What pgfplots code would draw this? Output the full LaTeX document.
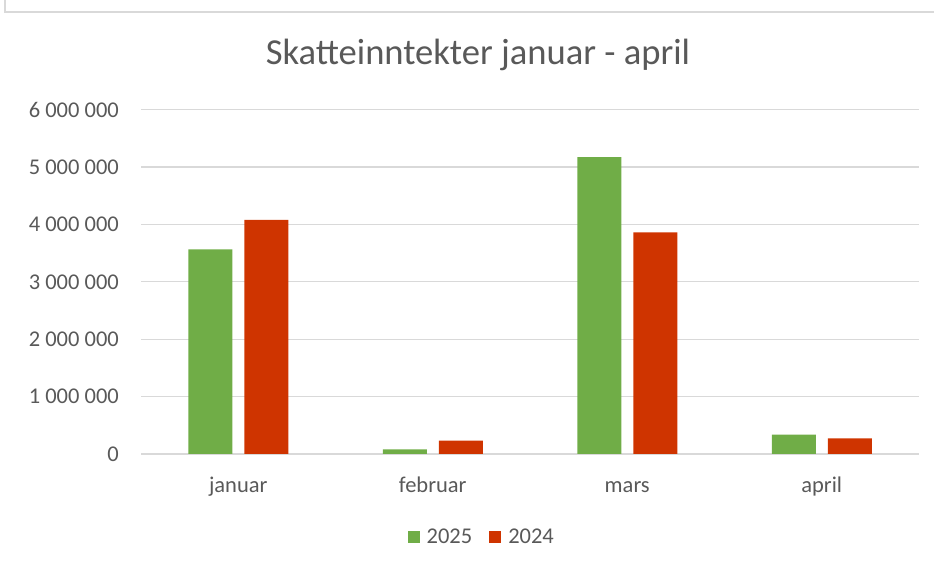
\documentclass[border=0pt]{standalone}
\usepackage{pgfplots}
\pgfplotsset{compat=1.18}
\usepackage{fontspec}
\setmainfont{Carlito}
\definecolor{cgreen}{RGB}{112,173,71}
\definecolor{cred}{RGB}{207,52,0}
\definecolor{cgrid}{RGB}{217,217,217}
\definecolor{ctext}{RGB}{89,89,89}
\begin{document}
\begin{tikzpicture}[x=1pt,y=1pt]
\useasboundingbox (0,0) rectangle (934,567);
\draw[cgrid, line width=1.5pt] (5,567) -- (5,555) -- (934,555);
\node[text=ctext, font=\fontsize{36.6}{42}\selectfont, anchor=base, inner sep=0pt] at (478,502.5) {Skatteinntekter januar - april};
\begin{axis}[
  at={(141pt,113pt)}, anchor=south west,
  width=778pt, height=344.4pt, scale only axis,
  ybar=12pt, bar width=44pt,
  xmin=-0.5, xmax=3.5, ymin=0, ymax=6000000,
  xtick={0,1,2,3}, xticklabels={januar,februar,mars,april},
  ytick={0,1000000,2000000,3000000,4000000,5000000,6000000},
  scaled y ticks=false,
  /pgf/number format/.cd, fixed, precision=0, 1000 sep={\ }, assume math mode=true, /pgfplots/.cd,
  ymajorgrids, grid style={cgrid, line width=1.3pt},
  axis x line*=bottom, axis y line*=left,
  x axis line style={cgrid, line width=1.3pt, -},
  y axis line style={draw=none},
  major tick length=0pt,
  tick label style={text=ctext, font=\fontsize{22.5}{26}\selectfont},
  yticklabel style={anchor=east, inner sep=0pt, xshift=-22pt},
  xticklabel style={anchor=base, inner sep=0pt, yshift=-39pt},
  legend style={at={(0.438,-0.241)}, anchor=center, draw=none, legend columns=2,
    font=\fontsize{22.5}{26}\selectfont, text=ctext,
    /tikz/every odd column/.append style={column sep=5pt},
    /tikz/every even column/.append style={column sep=15pt}},
  legend image code/.code={\fill[#1] (0pt,-6pt) rectangle (12pt,6pt);},
]
\addplot[fill=cgreen, draw=none] coordinates {(0,3566000) (1,82000) (2,5170000) (3,336000)};
\addplot[fill=cred, draw=none] coordinates {(0,4080000) (1,232000) (2,3860000) (3,273000)};
\legend{2025,2024}
\end{axis}
\end{tikzpicture}
\end{document}
